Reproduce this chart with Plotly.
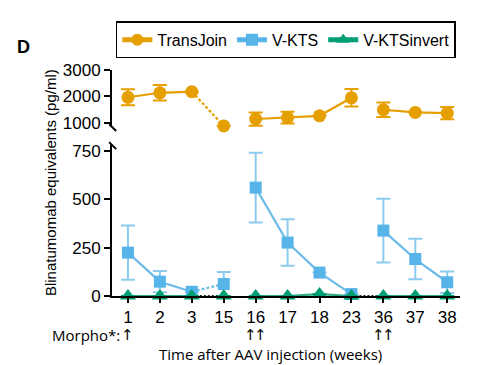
import plotly.graph_objects as go

weeks = ["1", "2", "3", "15", "16", "17", "18", "23", "36", "37", "38"]

transjoin = [1970, 2140, 2180, 890, 1150, 1200, 1270, 1950, 1500, 1400, 1370]
transjoin_err = [300, 290, 0, 0, 250, 220, 0, 330, 270, 0, 230]

vkts = [224, 74, 22, 62, 560, 276, 121, 10, 338, 191, 71]
vkts_err = [140, 55, 0, 62, 180, 120, 0, 0, 165, 105, 56]

vktsinv = [0, 0, 0, 0, 0, 0, 10, 0, 0, 0, 0]
vktsinv_err = [0, 0, 0, 0, 0, 0, 0, 0, 0, 0, 0]

morpho_arrows = {"1": 1, "16": 2, "36": 2}

y_ticks_upper = [1000, 2000, 3000]
y_ticks_lower = [0, 250, 500, 750]

ORANGE = "#E69F00"
BLUE = "#56B4E9"
BLUE_ERR = "#8CCBEE"
GREEN = "#009E73"
GREEN_LINE = "#2BA882"

solid_segments = [(0, 3), (4, 8), (8, 11)]
dash_segment = (2, 4)
dotted_segments_green = [(2, 4), (7, 9)]

fig = go.Figure()
FONT = "Liberation Sans, Arial, sans-serif"


def add_series(name, vals, errs, color, line_color, err_color, symbol, size, yaxis,
               dash_segs, dash_color, dash_style):
    for (a, b) in solid_segments:
        fig.add_trace(go.Scatter(x=weeks[a:b], y=vals[a:b], mode="lines",
                                 line=dict(color=line_color, width=2.2),
                                 yaxis=yaxis, showlegend=False, hoverinfo="skip",
                                 cliponaxis=False))
    for (a, b) in dash_segs:
        fig.add_trace(go.Scatter(x=weeks[a:b], y=vals[a:b], mode="lines",
                                 line=dict(color=dash_color, width=2.2, dash=dash_style),
                                 yaxis=yaxis, showlegend=False, hoverinfo="skip",
                                 cliponaxis=False))
    fig.add_trace(go.Scatter(x=weeks, y=vals, mode="markers", name=name,
                             marker=dict(symbol=symbol, size=size, color=color,
                                         line=dict(width=0)),
                             error_y=dict(type="data", array=errs, visible=True,
                                          color=err_color, thickness=2, width=7),
                             yaxis=yaxis, showlegend=False, cliponaxis=False))


add_series("TransJoin", transjoin, transjoin_err, ORANGE, ORANGE, ORANGE,
           "circle", 13, "y2", [dash_segment], ORANGE, "3px,2px")
add_series("V-KTS", vkts, vkts_err, BLUE, "#6DBCE8", BLUE_ERR,
           "square", 12, "y", [dash_segment], "#6DBCE8", "3px,2px")
add_series("V-KTSinvert", vktsinv, vktsinv_err, GREEN, GREEN_LINE, GREEN,
           "triangle-up", 14, "y", dotted_segments_green, "#222222", "2px,2px")

# legend entries
for name, color, symbol, size in [("TransJoin", ORANGE, "circle", 10),
                                  ("V-KTS", BLUE, "square", 9),
                                  ("V-KTSinvert", GREEN, "triangle-up", 10)]:
    fig.add_trace(go.Scatter(x=[None], y=[None], mode="lines+markers", name=name,
                             line=dict(color=color, width=2.2),
                             marker=dict(symbol=symbol, size=size, color=color)))

LOW_TOP = 0.668
UP_BOT = 0.748

axis_common = dict(showline=True, linecolor="black", linewidth=2, ticks="outside",
                   tickwidth=2, tickcolor="black", showgrid=False, zeroline=False,
                   automargin=False, tickfont=dict(size=17, family=FONT))

# page body has an 8px margin; compensate so the plot lands where the reference has it
fig.update_layout(
    width=492, height=357,
    margin=dict(l=104, r=40, t=62, b=69, autoexpand=False),
    paper_bgcolor="white", plot_bgcolor="white",
    font=dict(family=FONT, size=16, color="black"),
    showlegend=True,
    legend=dict(orientation="h", x=0.011, y=1.215, xanchor="left", yanchor="top",
                bordercolor="black", borderwidth=1.5, font=dict(size=16, family=FONT),
                itemwidth=30, tracegroupgap=0, itemsizing="constant"),
    xaxis=dict(type="category", categoryorder="array", categoryarray=weeks,
               range=[-0.5, 10.4], ticklen=5, anchor="y", **axis_common),
    yaxis=dict(domain=[0, LOW_TOP], range=[0, 780], tickvals=y_ticks_lower,
               ticklen=6, **axis_common),
    yaxis2=dict(domain=[UP_BOT, 1], range=[850, 3000], tickvals=y_ticks_upper,
                ticklen=6, anchor="x", **axis_common),
)

# axis break marks
for y0 in (UP_BOT, LOW_TOP):
    fig.add_shape(type="line", xref="paper", yref="paper",
                  x0=-0.008, x1=0.012, y0=y0 + 0.012, y1=y0 - 0.018,
                  line=dict(color="black", width=2))

MORPHO_Y = -0.172
annotations = [
    dict(text="<b>D</b>", x=-0.28, y=1.155, xref="paper", yref="paper",
         showarrow=False, xanchor="left", font=dict(size=18, family=FONT)),
    dict(text="Blinatumomab equivalents (pg/ml)", x=-0.178, y=0.50,
         xref="paper", yref="paper", showarrow=False, textangle=-90,
         xanchor="center", yanchor="middle",
         font=dict(size=15, family=FONT)),
    dict(text="Time after AAV injection (weeks)", x=0.455, y=-0.256,
         xref="paper", yref="paper", showarrow=False, yanchor="middle",
         font=dict(size=15, family="Open Sans")),
    dict(text="Morpho*:", x=weeks.index("1"), y=MORPHO_Y, xref="x", yref="paper",
         xanchor="right", xshift=-6, showarrow=False, yanchor="middle",
         font=dict(size=15, family="Open Sans")),
]
for wk, n in morpho_arrows.items():
    shifts = [0] if n == 1 else [-5 + 10 * k / (n - 1) for k in range(n)]
    for s in shifts:
        annotations.append(dict(text="↑", x=weeks.index(wk), y=MORPHO_Y,
                                xref="x", yref="paper", showarrow=False,
                                xanchor="center", yanchor="middle", xshift=s,
                                font=dict(size=15, family="DejaVu Sans")))
fig.update_layout(annotations=annotations)

fig.write_html("out.html")
